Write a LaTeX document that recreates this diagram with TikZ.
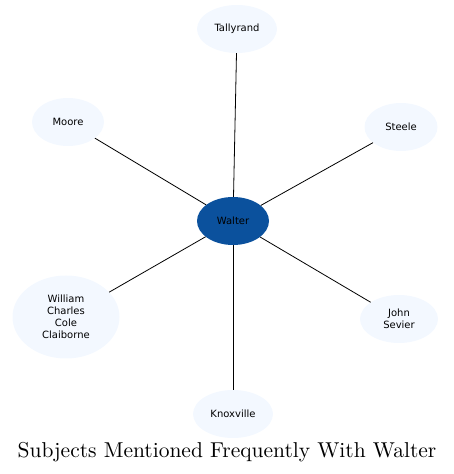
\documentclass[tikz,border=0pt]{standalone}
\usepackage{fontspec}
\usepackage{tikz}
\usetikzlibrary{shapes.geometric}
\newfontfamily\labelfont{DejaVu Sans}
\newfontfamily\titlefont{lmroman10-regular}[Extension=.otf]
\definecolor{Hub}{HTML}{0B519D}
\definecolor{Pale}{HTML}{F3F8FF}
\tikzset{
  subj/.style={ellipse, fill=Pale, draw=none, inner sep=0pt,
               minimum width=72pt, minimum height=48pt, align=center,
               font=\labelfont\fontsize{10}{12}\selectfont, text=black},
  hub/.style={subj, fill=Hub},
  link/.style={draw=black, line width=0.8pt},
  caption/.style={font=\titlefont\fontsize{21.5}{24}\selectfont, inner sep=0pt},
}
\begin{document}
\begin{tikzpicture}[x=1pt, y=1pt]
  \useasboundingbox (0,0) rectangle (453,474);
  \node[hub] (walter) at (233,253) {Walter};
  \node[subj, minimum width=80pt] (tally) at (237,445) {Tallyrand};
  \node[subj] (moore) at (68,352) {Moore};
  \node[subj, minimum width=73pt] (steele) at (401,347) {Steele};
  \node[subj, minimum width=107pt, minimum height=83pt] (clai) at (66,157)
    {William\\Charles\\Cole\\Claiborne};
  \node[subj, minimum width=78pt] (sevier) at (399,155) {John\\Sevier};
  \node[subj, minimum width=80pt] (knox) at (233,60) {Knoxville};
  % spokes
  \foreach \other in {tally,moore,steele,clai,sevier,knox}
    \draw[link] (walter) -- (\other);
  \node[caption] (title) at (227,22) {Subjects Mentioned Frequently With Walter};
\end{tikzpicture}
\end{document}
